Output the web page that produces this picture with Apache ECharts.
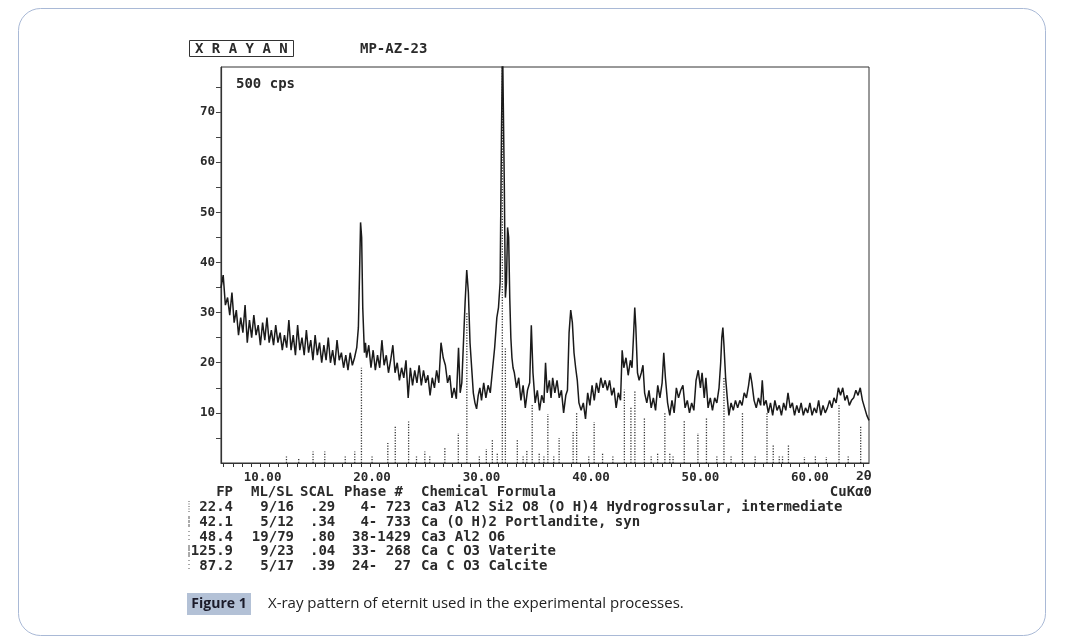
<!DOCTYPE html>
<html>
<head>
<meta charset="utf-8">
<script src="https://cdn.jsdelivr.net/npm/echarts/dist/echarts.min.js"></script>
<style>
html,body{margin:0;padding:0;background:#fff;}
#chart{width:1068px;height:641px;}
</style>
</head>
<body>
<div id="chart"></div>
<script>
// ---- data ----
const twoTheta = [
6.2,6.4,6.6,6.8,7.0,7.2,7.4,7.6,7.8,8.0,8.2,8.4,8.6,8.8,9.0,9.2,9.4,9.6,9.8,10.0,
10.2,10.4,10.6,10.8,11.0,11.2,11.4,11.6,11.8,12.0,12.2,12.4,12.6,12.8,13.0,13.2,13.4,13.6,13.8,14.0,
14.2,14.4,14.6,14.8,15.0,15.2,15.4,15.6,15.8,16.0,16.2,16.4,16.6,16.8,17.0,17.2,17.4,17.6,17.8,18.0,
18.2,18.4,18.6,18.75,18.85,18.95,19.05,19.15,19.3,19.4,
19.5,19.7,19.9,20.1,20.3,20.5,20.7,20.9,21.1,21.3,21.5,21.7,21.9,22.1,22.3,22.5,22.7,22.9,23.1,23.3,
23.5,23.7,23.9,24.1,24.3,24.5,24.7,24.9,25.1,25.3,25.5,25.7,25.9,26.1,26.3,26.5,26.7,26.9,27.1,27.3,
27.5,27.7,27.9,28.05,28.2,28.35,28.5,28.65,28.8,28.95,29.1,29.25,29.4,29.55,29.7,29.85,30.0,30.2,30.4,30.6,
30.8,31.0,31.2,31.4,31.55,31.7,31.82,31.92,32.0,32.08,32.18,32.28,32.38,32.48,32.58,32.68,32.78,32.88,33.0,33.2,
33.4,33.6,33.8,34.0,34.2,34.4,34.55,34.7,34.9,35.1,35.3,35.5,35.7,35.85,36.0,36.2,36.35,36.5,36.7,36.9,
37.1,37.3,37.5,37.7,37.85,38.0,38.15,38.3,38.45,38.6,38.75,38.9,39.1,39.3,39.5,39.7,39.9,40.1,40.3,40.5,
40.7,40.9,41.1,41.3,41.5,41.7,41.9,42.1,42.3,42.5,42.7,42.85,43.0,43.2,43.4,43.6,43.75,43.9,44.0,44.1,
44.25,44.4,44.6,44.75,44.9,45.1,45.3,45.5,45.7,45.9,46.1,46.3,46.5,46.65,46.8,47.0,47.2,47.4,47.6,47.8,
48.0,48.2,48.4,48.6,48.8,49.0,49.2,49.4,49.6,49.8,50.0,50.15,50.35,50.5,50.7,50.9,51.1,51.3,51.5,51.7,
51.85,51.95,52.05,52.15,52.3,52.45,52.6,52.8,53.0,53.2,53.4,53.6,53.8,54.0,54.2,54.4,54.55,54.7,54.9,55.1,
55.3,55.5,55.65,55.8,56.0,56.2,56.4,56.6,56.8,57.0,57.2,57.4,57.6,57.8,58.0,58.2,58.4,58.6,58.8,59.0,
59.2,59.4,59.6,59.8,60.0,60.2,60.4,60.6,60.8,61.0,61.2,61.4,61.6,61.8,62.0,62.2,62.4,62.6,62.8,63.0,
63.2,63.4,63.6,63.8,64.0,64.2,64.4,64.6,64.8,65.0,65.2,65.4
];
const counts = [
35,37.5,31.5,33,29.5,34,28,30.5,25.5,29,26,31.5,24,28.5,25,29.5,25.5,27.5,23.5,28,
24.5,29,24,26.5,23.5,27.5,24,26,22.5,25.5,23,28.5,22.5,25.5,21.5,27.5,22.5,25,21.5,26.5,
22,24.5,20.5,25.5,21.5,24,20,23.5,20.5,25,20,22.5,19.5,24.5,20.5,22,19,21.5,18.5,22,
19.5,21,23,27,37,48,45,31,22,24,
21,23.5,19,22.5,18.5,21.5,19,24.5,19.5,21.5,18,20.5,23.5,18,20,16.5,19,17,20.5,13,
19,15.5,18.5,16,19.5,15.5,18.5,16,17.5,13.5,17,15,18.5,16,24,21,19.5,16,17.5,13,
15,12.8,23,14,16,24,32,38.5,34,24,19,14,12,10.8,13.5,15,12.5,16,13,15.5,
14,18.5,23,29,31,36,65,84,84,56,33,36,47,45,33,25,21,19,18,15,
17,12.5,15.5,11,14.5,16,27.5,18,12,14.5,10.5,13.5,12,20,14,16.5,13,17,14,16.5,
13,14.5,10,13.5,14.5,26,30.5,28,22,19,16.5,12,10.5,12,8.8,14,11.5,15.5,12.5,16,
14,17,15,16.5,14.5,16.5,13.5,15,11,14,12.5,22.5,19,21,17.5,20.5,19,26,31,27,
18,16.5,18,19.5,14,12,14.5,11,13,10.5,15.5,13,16,22,17,12,9.5,12.5,10,15,
13,14.5,15.5,11,12.5,10,12,10.5,16.5,18.5,15,18,13,17,11,13,10.5,13,12,15,
20,25,27,23.5,17,13,9.5,12,10.5,12.5,11,12.5,11.5,14,13,15.5,18,16,12.5,11,
13,11.5,16.5,11.5,12.5,10,12,9.5,12.5,10.5,11.5,9.5,12,10.5,14,11,12,9.5,11.5,10,
12,9.5,11,10,12,9.5,11,10,12.5,9.5,11.5,10,11,12.5,11,13,12,15,13.5,15,
12.5,13.5,11.5,12.5,13,14.5,13.5,15,12.5,11,9.5,8.5
];
// reference stick pattern (2θ position, height in the cps scale)
const stickTheta = [12.18,13.3,14.61,15.68,17.55,18.42,19.03,20.0,21.44,22.12,23.34,24.06,24.82,25.27,26.65,27.88,28.66,29.8,30.44,30.99,
31.44,31.9,32.18,33.27,33.8,34.14,34.63,35.27,35.7,36.06,36.6,37.09,38.37,38.69,39.8,40.29,41.06,42.0,43.05,43.65,
44.01,44.88,45.5,46.09,46.75,47.2,47.5,48.52,49.77,50.55,51.5,52.15,52.8,53.84,55.0,56.08,56.65,57.2,57.5,58.04,
59.5,60.5,61.5,62.66,63.5,64.64];
const stickHeight = [1.3,1,2.3,2.3,1.3,2.3,19,1.3,4.3,7.3,8.3,1.3,2.3,1.3,3,6,30,1.5,2.8,4.8,
2,79,23,4.8,1.5,2.5,11.8,2,1.5,9.8,1.5,5,6.2,10,1.5,8.2,2,1.5,14.6,11.2,
14.5,9.2,1.5,2,10,2,1.5,8.6,6,9,1.5,17,1.5,10,1.5,10,3.5,1.5,1.5,3.5,
1.2,1.5,1.2,11.5,1.5,7.5];
const xLabelValues = [10,20,30,40,50,60];
const yLabelValues = [10,20,30,40,50,60,70];
const yTickValues = [5,10,15,20,25,30,35,40,45,50,55,60,65,70,75];
const tableFP = ['22.4','42.1','48.4','125.9','87.2'];
const tableMLSL = ['9/16','5/12','19/79','9/23','5/17'];
const tableSCAL = ['.29','.34','.80','.04','.39'];
const tablePhase = [' 4- 723',' 4- 733','38-1429','33- 268','24-  27'];
const tableFormula = ['Ca3 Al2 Si2 O8 (O H)4 Hydrogrossular, intermediate','Ca (O H)2 Portlandite, syn','Ca3 Al2 O6','Ca C O3 Vaterite','Ca C O3 Calcite'];
const tableHeader = ['FP','ML/SL','SCAL','Phase #','Chemical Formula','CuKα0'];

// ---- build ----
const MONO = '"DejaVu Sans Mono", "Liberation Mono", monospace';
const TXT = '#2a2a2a';
const traceData = twoTheta.map((t, i) => [t, counts[i]]);
const stickData = stickTheta.map((t, i) => [t, stickHeight[i]]);
const xTickValues = [];
for (let v = 6.45; v < 65.4; v += 0.835) xTickValues.push(+v.toFixed(3));

function monoText(x, y, text, opt) {
  return {
    type: 'text', x: x, y: y, silent: true,
    style: Object.assign({text: text, font: 'bold 14px ' + MONO, fill: TXT, textVerticalAlign: 'middle', textAlign: 'left'}, opt || {})
  };
}

const graphics = [];
graphics.push({type: 'rect', shape: {x: 18.5, y: 8.5, width: 1027, height: 627, r: 22}, style: {fill: 'none', stroke: '#a9b9d6', lineWidth: 1}, silent: true, z: -10});
graphics.push({type: 'rect', shape: {x: 189.5, y: 40.5, width: 104, height: 16}, style: {fill: 'none', stroke: '#333', lineWidth: 1}, silent: true});
graphics.push(monoText(195, 49, 'X R A Y A N', {font: 'bold 14px ' + MONO}));
graphics.push(monoText(360, 49, 'MP-AZ-23'));
graphics.push(monoText(236, 84, '500 cps'));
graphics.push(monoText(856, 477, '2θ', {font: 'bold 13px ' + MONO}));
const hy = 492;
graphics.push(monoText(233, hy, tableHeader[0], {textAlign: 'right'}));
graphics.push(monoText(251, hy, tableHeader[1]));
graphics.push(monoText(300, hy, tableHeader[2]));
graphics.push(monoText(344, hy, tableHeader[3]));
graphics.push(monoText(421, hy, tableHeader[4]));
graphics.push(monoText(872, hy, tableHeader[5], {textAlign: 'right'}));
const rowY = [507, 522, 537, 551, 566];
const markerDash = [[1, 1.5], [3, 1], [1, 3], [6, 1], [1, 3]];
tableFP.forEach((fp, i) => {
  const y = rowY[i];
  graphics.push({type: 'line', shape: {x1: 189, y1: y - 6, x2: 189, y2: y + 6}, style: {stroke: '#555', lineWidth: 1, lineDash: markerDash[i]}, silent: true});
  graphics.push(monoText(233, y, fp, {textAlign: 'right'}));
  graphics.push(monoText(294, y, tableMLSL[i], {textAlign: 'right'}));
  graphics.push(monoText(310, y, tableSCAL[i]));
  graphics.push(monoText(352, y, tablePhase[i]));
  graphics.push(monoText(421, y, tableFormula[i]));
});
graphics.push({type: 'rect', shape: {x: 187, y: 593, width: 64, height: 22}, style: {fill: '#b3c1d6'}, silent: true});
graphics.push({type: 'text', x: 219, y: 604, silent: true, style: {text: 'Figure 1', font: 'bold 14px "Open Sans", "Noto Sans", sans-serif', fill: '#1b1b2a', textAlign: 'center', textVerticalAlign: 'middle'}});
graphics.push({type: 'text', x: 268, y: 604, silent: true, style: {text: 'X-ray pattern of eternit used in the experimental processes.', font: '15px "Open Sans", "Noto Sans", sans-serif', fill: '#222', textAlign: 'left', textVerticalAlign: 'middle'}});

const chart = echarts.init(document.getElementById('chart'), null, {renderer: 'canvas'});
chart.setOption({
  animation: false,
  backgroundColor: '#fff',
  grid: {left: 221, top: 67, width: 648, height: 396, show: true, borderColor: '#333', borderWidth: 1, backgroundColor: 'transparent'},
  xAxis: {
    type: 'value', min: 6.2, max: 65.4,
    axisLine: {show: true, onZero: false, lineStyle: {color: '#333', width: 1.2}},
    axisTick: {show: true, customValues: xTickValues, length: 4, lineStyle: {color: '#333'}},
    axisLabel: {customValues: xLabelValues, formatter: v => v.toFixed(2), fontFamily: MONO, fontWeight: 'bold', fontSize: 12.5, color: TXT, margin: 8},
    splitLine: {show: false}
  },
  yAxis: {
    type: 'value', min: 0, max: 79,
    axisLine: {show: true, lineStyle: {color: '#333', width: 1.2}},
    axisTick: {show: true, customValues: yTickValues, length: 5, lineStyle: {color: '#444'}},
    axisLabel: {customValues: yLabelValues, fontFamily: MONO, fontWeight: 'bold', fontSize: 12.5, color: TXT, margin: 6},
    splitLine: {show: false}
  },
  series: [
    {
      type: 'custom', z: 1, clip: true,
      data: stickData,
      renderItem: function (params, api) {
        const p0 = api.coord([api.value(0), 0]);
        const p1 = api.coord([api.value(0), api.value(1)]);
        return {type: 'line', shape: {x1: p0[0], y1: p0[1], x2: p1[0], y2: p1[1]}, style: {stroke: '#333', lineWidth: 1.3, lineDash: [1.2, 1.5]}};
      }
    },
    {
      type: 'line', z: 2, clip: true, showSymbol: false, symbol: 'none',
      data: traceData,
      lineStyle: {color: '#1a1a1a', width: 1.5}
    }
  ],
  graphic: {elements: graphics}
});
</script>
</body>
</html>
